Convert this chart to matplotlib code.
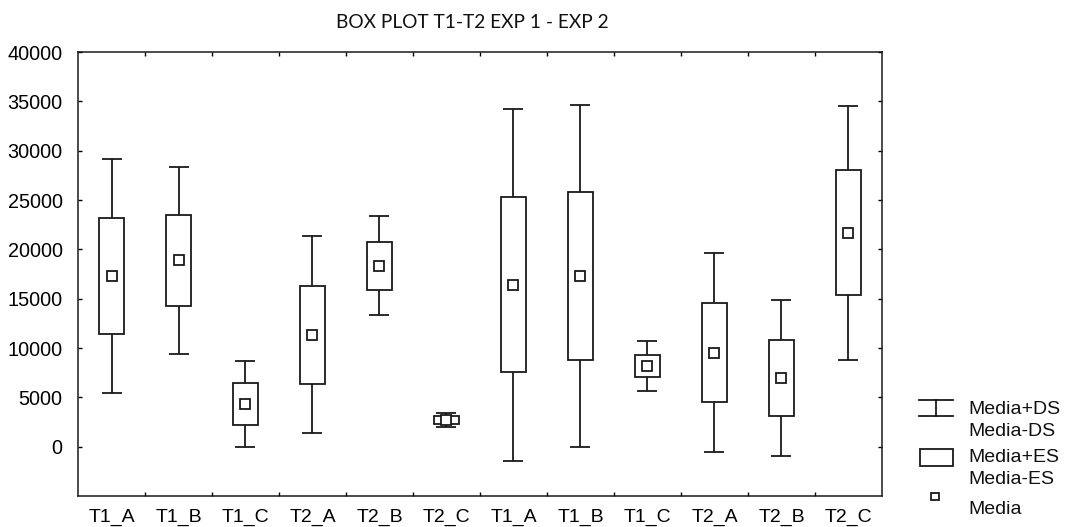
import numpy as np
import matplotlib
matplotlib.use("Agg")
import matplotlib.pyplot as plt
from matplotlib.patches import Rectangle
from matplotlib.lines import Line2D

# data (mean, standard error, standard deviation)
labels = ["T1_A", "T1_B", "T1_C", "T2_A", "T2_B", "T2_C",
          "T1_A", "T1_B", "T1_C", "T2_A", "T2_B", "T2_C"]
media = [17290, 18900, 4300, 11340, 18350, 2700,
         16400, 17300, 8160, 9520, 6990, 21680]
es = [5880, 4600, 2150, 4970, 2440, 450,
      8870, 8540, 1110, 5040, 3850, 6310]
ds = [11840, 9460, 4350, 9970, 5020, 750,
      17850, 17350, 2550, 10100, 7900, 12870]

plt.rcParams['font.family'] = ['Liberation Sans', 'DejaVu Sans']
W, H = 1066, 527
fig = plt.figure(figsize=(W / 100, H / 100), dpi=100)
ax = fig.add_axes([78 / W, 1 - 496 / H, (882 - 78) / W, (496 - 52) / H])

x = np.arange(len(labels))
col = '#1a1a1a'
ax.errorbar(x, media, yerr=ds, fmt='none', ecolor=col, elinewidth=1.3,
            capsize=7, capthick=1.3, zorder=1)
ax.bar(x, 2 * np.array(es), bottom=np.array(media) - np.array(es), width=0.37,
       facecolor='white', edgecolor=col, linewidth=1.3, zorder=2)
ax.plot(x, media, 's', ms=7, mfc='white', mec=col, mew=1.3, zorder=3)

ax.set_xlim(-0.5, len(labels) - 0.5)
ax.set_ylim(-5000, 40000)
ax.set_yticks(np.arange(0, 40001, 5000))
ax.set_xticks(x)
ax.set_xticklabels(labels)
ax.set_xticks(np.arange(0.5, len(labels) - 0.5, 1), minor=True)
ax.tick_params(axis='x', which='major', length=0, pad=9, labelsize=14)
ax.tick_params(axis='x', which='minor', direction='in', length=3, width=1,
               top=True, bottom=True)
ax.tick_params(axis='y', direction='in', length=3, width=1, left=True,
               right=True, pad=11, labelsize=14.3)
for s in ax.spines.values():
    s.set_linewidth(1.1)
    s.set_color(col)

fig.text(472 / W, 1 - 22 / H, "BOX PLOT T1-T2 EXP 1 - EXP 2", ha='center',
         va='center', fontsize=13.8, family=['Lato', 'DejaVu Sans'], color='#111111')

# legend drawn in figure pixel coords
lax = fig.add_axes([0, 0, 1, 1], facecolor='none')
lax.set_xlim(0, W)
lax.set_ylim(H, 0)
lax.axis('off')
lax.add_line(Line2D([919, 953], [400, 400], color=col, lw=1.3))
lax.add_line(Line2D([919, 953], [416, 416], color=col, lw=1.3))
lax.add_line(Line2D([936, 936], [400, 416], color=col, lw=1.3))
lax.add_patch(Rectangle((920, 449), 33, 17, fill=False, ec=col, lw=1.3))
lax.add_patch(Rectangle((931, 493), 8, 7, fill=False, ec=col, lw=1.3))
for t, yy in [("Media+DS", 409), ("Media-DS", 431), ("Media+ES", 457),
              ("Media-ES", 480), ("Media", 509)]:
    lax.text(968, yy, t, fontsize=14, va='center', ha='left', color='#111111')

fig.savefig("out.png", dpi=100)
